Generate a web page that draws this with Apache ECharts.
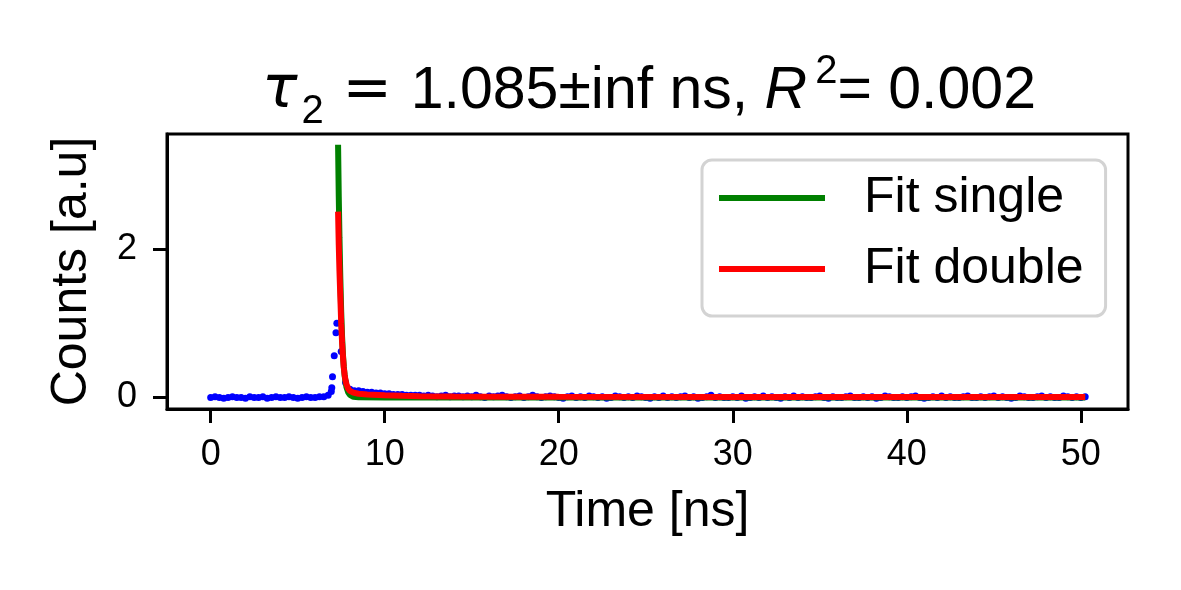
<!DOCTYPE html>
<html>
<head>
<meta charset="utf-8">
<script src="https://cdn.jsdelivr.net/npm/echarts@6/dist/echarts.min.js"></script>
<style>
    html, body {margin: 0; padding: 0; background: #fff;}
    #main {width: 1181px; height: 590px;}
</style>
</head>
<body>
<div id="main"></div>
<script>
    // measured decay, sampled every 0.25 ns from t = 0
    var countStep = 0.25;
    var counts = [
        0.00, 0.01, 0.00, -0.01, 0.00, 0.01, 0.00, 0.00, -0.01, 0.01,
        0.00, 0.00, 0.01, -0.01, 0.00, 0.01, 0.00, 0.00, 0.01, 0.00,
        -0.01, 0.00, 0.01, 0.00, 0.00, 0.01, 0.01, 0.03,
        0.28, 1.00, 0.62, 0.20, 0.11, 0.09, 0.09, 0.08, 0.07, 0.07,
        0.06, 0.06, 0.05, 0.05, 0.04, 0.04, 0.04, 0.03, 0.03, 0.03, 0.03,
        0.02, 0.03, 0.02, 0.01, 0.02, 0.03, 0.01, 0.02, 0.02, 0.01,
        0.02, 0.01, 0.03, 0.01, 0.00, 0.02, 0.01, 0.02, 0.03, 0.01,
        0.00, 0.01, 0.02, 0.00, 0.01, 0.03, 0.01, 0.00, 0.01, 0.02,
        0.01, 0.00, -0.01, 0.01, 0.02, 0.00, 0.01, 0.00, 0.02, 0.01,
        0.00, 0.01, -0.01, 0.00, 0.02, 0.01, 0.00, 0.01, 0.00, 0.02,
        0.01, 0.00, -0.01, 0.01, 0.00, 0.02, 0.00, 0.01, 0.00, 0.01,
        0.02, 0.00, 0.01, -0.01, 0.00, 0.01, 0.03, 0.00, 0.01, 0.00,
        0.00, 0.01, 0.00, 0.02, -0.01, 0.00, 0.01, 0.00, 0.02, 0.00,
        0.01, 0.00, -0.01, 0.01, 0.00, 0.02, 0.00, 0.01, 0.00, 0.00,
        0.01, 0.02, 0.00, -0.01, 0.01, 0.00, 0.00, 0.01, 0.02, 0.00,
        0.00, 0.01, 0.00, 0.01, -0.01, 0.00, 0.02, 0.01, 0.00, 0.00,
        0.01, 0.00, 0.01, 0.02, 0.00, -0.01, 0.00, 0.01, 0.00, 0.02,
        0.00, 0.01, 0.00, 0.00, 0.01, 0.02, 0.00, 0.00, 0.01, 0.00,
        0.01, 0.02, 0.00, 0.01, 0.00, -0.01, 0.00, 0.02, 0.01, 0.00,
        0.00, 0.01, 0.02, 0.00, 0.01, 0.00, 0.00, 0.02, 0.01, 0.00,
        0.01, 0.00, 0.01
    ];
    // extra points on the rising edge
    var peakTimes = [6.93, 6.96, 7.10, 7.20];
    var peakCounts = [0.08, 0.13, 0.56, 0.87];

    // single exponential fit
    var singleTimes = [7.32, 7.36, 7.40, 7.45, 7.50, 7.55, 7.60, 7.65, 7.70, 7.80, 7.90, 8.00, 8.20, 8.50, 10.0, 50.25];
    var singleFit = [3.40, 2.70, 2.15, 1.60, 1.15, 0.82, 0.58, 0.41, 0.29, 0.14, 0.07, 0.035, 0.01, 0.002, 0.0, 0.0];

    // double exponential fit
    var doubleTimes = [7.32, 7.36, 7.40, 7.45, 7.50, 7.55, 7.60, 7.65, 7.70, 7.75, 7.80, 7.90, 8.00, 8.20, 8.50, 9.0, 10.0, 11.0, 12.0, 14.0, 17.0, 20.0, 30.0, 50.25];
    var doubleFit = [2.50, 2.05, 1.70, 1.35, 1.00, 0.74, 0.55, 0.40, 0.30, 0.23, 0.18, 0.12, 0.09, 0.065, 0.05, 0.04, 0.03, 0.022, 0.018, 0.013, 0.010, 0.009, 0.008, 0.008];

    var xTicks = [0, 10, 20, 30, 40, 50];
    var yTicks = [0, 2];

    var FONT = '"Liberation Sans", Arial, sans-serif';
    var MATH = '"DejaVu Sans", sans-serif';

    function pairs(xs, ys) {
        var out = [];
        for (var i = 0; i < xs.length; i++) {
            out.push([xs[i], ys[i]]);
        }
        return out;
    }

    var dataPoints = [];
    for (var i = 0; i < counts.length; i++) {
        dataPoints.push([i * countStep, counts[i]]);
    }
    dataPoints = dataPoints.concat(pairs(peakTimes, peakCounts));

    var chart = echarts.init(document.getElementById('main'), null, {renderer: 'canvas'});

    var option = {
        animation: false,
        backgroundColor: '#fff',
        title: {
            text: '{t|τ}{sub|2}{eq| = }{n|1.085±inf ns, }{it|R}{sup|2}{n|= 0.002}',
            left: 649,
            textAlign: 'center',
            top: 52,
            padding: 0,
            textStyle: {
                fontWeight: 'normal',
                rich: {
                    t: {fontFamily: MATH, fontStyle: 'italic', fontWeight: 'normal', fontSize: 59, lineHeight: 80, color: '#000'},
                    eq: {fontFamily: MATH, fontWeight: 'normal', fontSize: 59, lineHeight: 80, color: '#000'},
                    n: {fontFamily: FONT, fontWeight: 'normal', fontSize: 59, lineHeight: 80, color: '#000'},
                    it: {fontFamily: FONT, fontStyle: 'italic', fontWeight: 'normal', fontSize: 59, lineHeight: 80, color: '#000'},
                    sub: {fontFamily: FONT, fontWeight: 'normal', fontSize: 40, lineHeight: 46, verticalAlign: 'bottom', color: '#000', padding: [0, 0, 0, 4]},
                    sup: {fontFamily: FONT, fontWeight: 'normal', fontSize: 40, lineHeight: 50, verticalAlign: 'top', color: '#000', padding: [0, 0, 0, 8]}
                }
            }
        },
        legend: {
            data: ['Fit single', 'Fit double'],
            orient: 'vertical',
            left: 702,
            top: 160,
            padding: [13, 22, 22, 17],
            itemWidth: 106,
            itemHeight: 6,
            itemGap: 21,
            icon: 'rect',
            backgroundColor: 'rgba(255,255,255,0.8)',
            borderColor: '#d3d3d3',
            borderWidth: 3,
            borderRadius: 10,
            textStyle: {fontFamily: FONT, fontSize: 50, lineHeight: 50, color: '#000', padding: [0, 0, 0, 34]}
        },
        grid: {
            left: 167,
            top: 134,
            width: 961,
            height: 275,
            show: true,
            borderColor: '#000',
            borderWidth: 3,
            containLabel: false
        },
        xAxis: {
            type: 'value',
            min: -2.51,
            max: 52.71,
            name: 'Time [ns]',
            nameLocation: 'middle',
            nameGap: 78,
            nameTextStyle: {fontFamily: FONT, fontSize: 50, color: '#000'},
            axisLine: {show: true, onZero: false, lineStyle: {color: '#000', width: 3}},
            axisTick: {show: true, customValues: xTicks, length: 14, lineStyle: {color: '#000', width: 3}},
            axisLabel: {customValues: xTicks, margin: 28, fontFamily: FONT, fontSize: 36, color: '#000'},
            splitLine: {show: false}
        },
        yAxis: {
            type: 'value',
            min: -0.155,
            max: 3.545,
            name: 'Counts [a.u]',
            nameLocation: 'middle',
            nameGap: 70,
            nameTextStyle: {fontFamily: FONT, fontSize: 50, color: '#000'},
            axisLine: {show: true, onZero: false, lineStyle: {color: '#000', width: 3}},
            axisTick: {show: true, customValues: yTicks, length: 14, lineStyle: {color: '#000', width: 3}},
            axisLabel: {customValues: yTicks, margin: 30, fontFamily: FONT, fontSize: 36, color: '#000'},
            splitLine: {show: false}
        },
        series: [
            {
                name: 'Data',
                type: 'scatter',
                data: dataPoints,
                symbol: 'circle',
                symbolSize: 7,
                itemStyle: {color: '#0000ff', opacity: 1},
                z: 2
            },
            {
                name: 'Fit single',
                type: 'line',
                data: pairs(singleTimes, singleFit),
                showSymbol: false,
                color: '#008000',
                lineStyle: {color: '#008000', width: 6},
                z: 3
            },
            {
                name: 'Fit double',
                type: 'line',
                data: pairs(doubleTimes, doubleFit),
                showSymbol: false,
                color: '#ff0000',
                lineStyle: {color: '#ff0000', width: 6},
                z: 4
            }
        ]
    };

    chart.setOption(option);
</script>
</body>
</html>
